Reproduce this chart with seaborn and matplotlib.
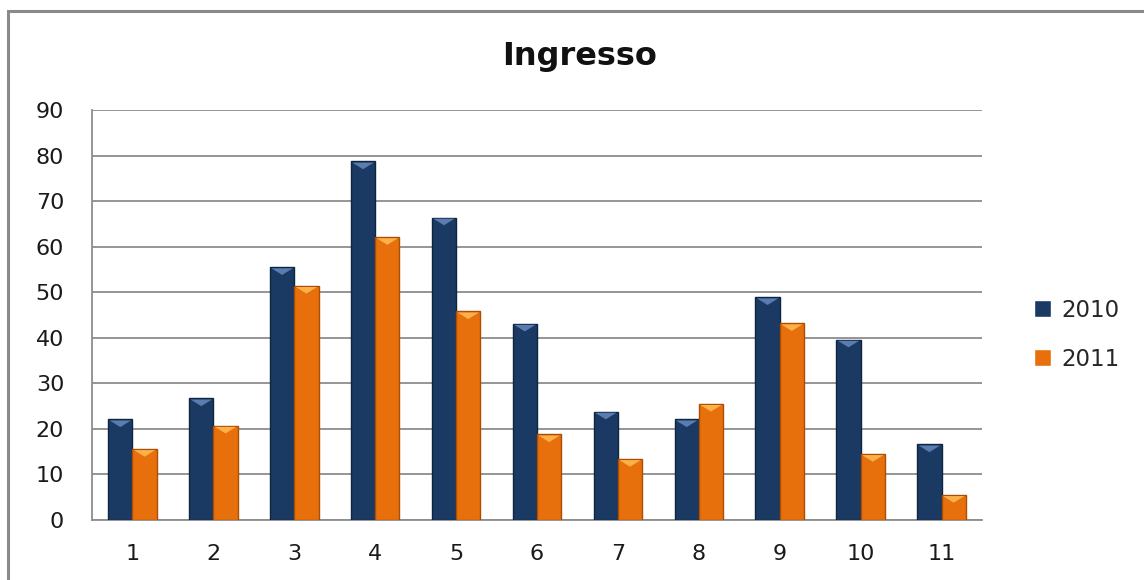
import matplotlib
matplotlib.use("Agg")
import matplotlib.pyplot as plt
from matplotlib.patches import Polygon, Rectangle
import numpy as np
import pandas as pd
import seaborn as sns

categories = ["1", "2", "3", "4", "5", "6", "7", "8", "9", "10", "11"]
values_2010 = [22.1, 26.7, 55.5, 78.7, 66.4, 43.1, 23.8, 22.1, 48.9, 39.6, 16.6]
values_2011 = [15.6, 20.7, 51.4, 62.1, 45.8, 18.8, 13.4, 25.5, 43.2, 14.5, 5.5]
series = ["2010", "2011"]
y_ticks = [0, 10, 20, 30, 40, 50, 60, 70, 80, 90]

colors = {"2010": "#1b3a63", "2011": "#e8700c"}
edge_colors = {"2010": "#0f2440", "2011": "#a84e06"}
bevel_colors = {"2010": "#5a7cb0", "2011": "#fbb04a"}

df = pd.DataFrame({
    "categoria": categories * 2,
    "valore": values_2010 + values_2011,
    "anno": [series[0]] * len(categories) + [series[1]] * len(categories),
})

sns.set_theme(style="white")
plt.rcParams["font.family"] = ["DejaVu Sans"]

fig = plt.figure(figsize=(11.44, 5.8), dpi=100)
ax = fig.add_axes([92 / 1144, 1 - 520 / 580, 890 / 1144, 410 / 580])

sns.barplot(data=df, x="categoria", y="valore", hue="anno", order=categories,
            hue_order=series, palette=colors, width=0.6, saturation=1,
            ax=ax, zorder=3)

# bevelled look: darker outline and a lighter wedge on top of each bar
for container, name in zip(ax.containers, series):
    for bar in container:
        bar.set_edgecolor(edge_colors[name])
        bar.set_linewidth(1.0)
        x0, w, h = bar.get_x(), bar.get_width(), bar.get_height()
        depth = min(1.7, h * 0.5)
        inset = w * 0.06
        tri = Polygon([(x0 + inset, h - 0.25), (x0 + w - inset, h - 0.25),
                       (x0 + w / 2, h - depth)], closed=True,
                      facecolor=bevel_colors[name], edgecolor="none", zorder=4)
        ax.add_patch(tri)

ax.set_ylim(0, 90)
ax.set_xlim(-0.5, len(categories) - 0.5)
ax.set_yticks(y_ticks)
ax.set_yticklabels([str(t) for t in y_ticks])
ax.yaxis.grid(True, color="#8c8c8c", linewidth=1.3, zorder=0)
ax.set_axisbelow(True)
ax.tick_params(axis="y", length=0, pad=20, labelsize=16, labelcolor="#1a1a1a")
ax.tick_params(axis="x", length=0, pad=17, labelsize=16, labelcolor="#1a1a1a")
ax.set_xlabel("")
ax.set_ylabel("")

for side in ["top", "right"]:
    ax.spines[side].set_visible(False)
for side in ["left", "bottom"]:
    ax.spines[side].set_color("#8c8c8c")
    ax.spines[side].set_linewidth(1.3)

handles, labels = ax.get_legend_handles_labels()
ax.legend(handles, labels, loc="center left", bbox_to_anchor=(1.035, 0.452),
          frameon=False, fontsize=16.5, handlelength=0.75, handleheight=0.75,
          handletextpad=0.45, labelspacing=1.12)

fig.text(580 / 1144, 1 - 57 / 580, "Ingresso", ha="center", va="center",
         fontsize=23, fontweight="bold", color="#111111")

# chart frame
fig.patches.append(Rectangle((8 / 1144, -0.1), 1.2, 1.1 - 11 / 580,
                             transform=fig.transFigure, fill=False,
                             edgecolor="#8a8a8a", linewidth=2.2))

fig.savefig("out.png", dpi=100, facecolor="white")
